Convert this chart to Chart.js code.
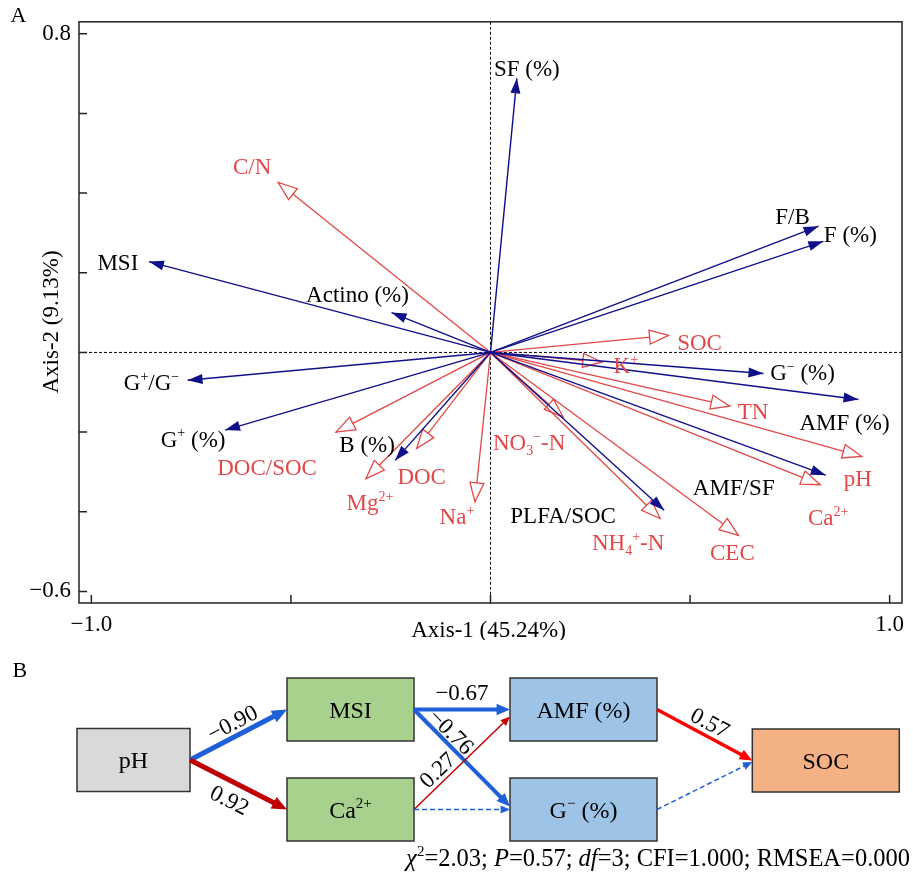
<!DOCTYPE html>
<html>
<head>
<meta charset="utf-8">
<script src="https://cdn.jsdelivr.net/npm/chart.js@4.4.1/dist/chart.umd.min.js"></script>
<style>
  html, body { margin: 0; padding: 0; background: #fff; }
  canvas { display: block; }
</style>
</head>
<body>
<canvas id="rda-chart" width="913" height="640"></canvas>
<canvas id="sem-chart" width="913" height="241"></canvas>
<script>
// --- panel A: RDA biplot ---
// microbial variables (blue arrows, filled heads)
var bioVars = ['SF (%)', 'F/B', 'F (%)', 'MSI', 'Actino (%)', 'G^{+}/G^{−}', 'G^{+} (%)', 'B (%)', 'G^{−} (%)', 'AMF (%)', 'AMF/SF', 'PLFA/SOC'];
var bioAxis1 = [0.066, 0.822, 0.834, -0.856, -0.248, -0.759, -0.665, -0.239, 0.684, 0.922, 0.840, 0.435];
var bioAxis2 = [0.688, 0.317, 0.279, 0.228, 0.100, -0.070, -0.195, -0.271, -0.053, -0.118, -0.308, -0.396];

// soil properties (red arrows, open heads)
var soilVars = ['C/N', 'SOC', 'K^{+}', 'TN', 'pH', 'Ca^{2+}', 'CEC', 'NH_{4}^{+}-N', 'NO_{3}^{−}-N', 'Na^{+}', 'DOC', 'Mg^{2+}', 'DOC/SOC'];
var soilAxis1 = [-0.532, 0.446, 0.279, 0.600, 0.930, 0.826, 0.621, 0.425, 0.182, -0.039, -0.185, -0.312, -0.387];
var soilAxis2 = [0.427, 0.043, -0.024, -0.135, -0.261, -0.332, -0.459, -0.417, -0.162, -0.375, -0.241, -0.317, -0.200];

var axis1Title = 'Axis-1 (45.24%)';
var axis2Title = 'Axis-2 (9.13%)';

// --- panel B: path model ---
var semNodes = ['pH', 'MSI', 'Ca^{2+}', 'AMF (%)', 'G^{−} (%)', 'SOC'];
var pathFrom = [0, 0, 1, 1, 2, 2, 3, 4];
var pathTo = [1, 2, 3, 4, 3, 4, 5, 5];
var pathCoef = [-0.90, 0.92, -0.67, -0.76, 0.27, null, 0.57, null];
var fitStats = '|χ|^{2}=2.03; |P|=0.57; |df|=3; CFI=1.000; RMSEA=0.000';

// label placement (px offsets from arrow tips)
var bioLabelOffset = [[10, -10], [-26, -10], [27, -7], [-31, 1], [-34, -18], [-36, 2], [-32, 9], [-28, -16], [39, -1], [-14, 23], [-92, 12], [-101, 5]];
var soilLabelOffset = [[-26, -16], [31, 7], [24, 4], [23, 5], [-4, 22], [8, 33], [-6, 17], [-32, 24], [-34, 26], [-18, 15], [5, 28], [4, 24], [-69, 35]];

// diagram layout (units of panel B)
var nodeLayout = [
    { x: 133.5, y: 120, w: 113, fill: '#d9d9d9' },
    { x: 350.5, y: 69.5, w: 127, fill: '#a9d18e' },
    { x: 350.5, y: 169.5, w: 127, fill: '#a9d18e' },
    { x: 583.5, y: 69.5, w: 147, fill: '#9dc3e6' },
    { x: 583.5, y: 169.5, w: 147, fill: '#9dc3e6' },
    { x: 825.8, y: 120.5, w: 147, fill: '#f4b183' }
];
var NODE_H = 63;
var pathStyle = [
    { w: 5, c: '#1f5fd8', n: 14, a: 0 },
    { w: 5, c: '#c00000', n: -17, a: -1 },
    { w: 4, c: '#1f5fd8', n: 18, a: 0 },
    { w: 4, c: '#1f5fd8', n: 11.5, a: -26, endDy: -3 },
    { w: 1.5, c: '#c00000', n: 12.7, a: -22.5, endDy: 7 },
    { w: 1.5, c: '#1f5fd8', dash: [5, 3] },
    { w: 3.5, c: '#ff0000', n: 14, a: -1 },
    { w: 1.5, c: '#1f5fd8', dash: [5, 3], endDy: 1.5 }
];

var FONT = '"Liberation Serif", "Times New Roman", serif';
var BLUE = '#10108a';
var RED = '#e24848';

Chart.defaults.font.family = FONT;
Chart.defaults.font.size = 23;
Chart.defaults.color = '#000';

// tiny rich text: ^{sup} _{sub} |italic|
function parseRich(s) {
    var segs = [], buf = '', italic = false, i = 0;
    function flush() { if (buf) { segs.push({ t: buf, m: 'n', it: italic }); buf = ''; } }
    while (i < s.length) {
        var c = s[i];
        if ((c === '^' || c === '_') && s[i + 1] === '{') {
            flush();
            var j = s.indexOf('}', i);
            segs.push({ t: s.slice(i + 2, j), m: c === '^' ? 'sup' : 'sub', it: italic });
            i = j + 1;
            continue;
        }
        if (c === '|') { flush(); italic = !italic; i++; continue; }
        buf += c; i++;
    }
    flush();
    return segs;
}

function drawRich(ctx, s, x, y, size, color, align) {
    var segs = parseRich(s);
    var total = 0;
    segs.forEach(function (g) {
        var fs = g.m === 'n' ? size : Math.round(size * 0.62);
        g.font = (g.it ? 'italic ' : '') + fs + 'px ' + FONT;
        ctx.font = g.font;
        g.w = ctx.measureText(g.t).width;
        total += g.w;
    });
    var cx = align === 'center' ? x - total / 2 : (align === 'right' ? x - total : x);
    ctx.save();
    ctx.fillStyle = color;
    ctx.textAlign = 'left';
    ctx.textBaseline = 'alphabetic';
    segs.forEach(function (g) {
        var dy = g.m === 'sup' ? -size * 0.4 : (g.m === 'sub' ? size * 0.2 : 0);
        ctx.font = g.font;
        ctx.fillText(g.t, cx, y + dy);
        cx += g.w;
    });
    ctx.restore();
}

var datasets = [];
soilVars.forEach(function (name, i) {
    datasets.push({
        label: name, group: 'soil', labelOffset: soilLabelOffset[i],
        data: [{ x: 0, y: 0 }, { x: soilAxis1[i], y: soilAxis2[i] }],
        borderColor: RED, borderWidth: 1.3, showLine: true, pointRadius: 0, order: 1
    });
});
bioVars.forEach(function (name, i) {
    datasets.push({
        label: name, group: 'bio', labelOffset: bioLabelOffset[i],
        data: [{ x: 0, y: 0 }, { x: bioAxis1[i], y: bioAxis2[i] }],
        borderColor: BLUE, borderWidth: 1.4, showLine: true, pointRadius: 0, order: 0
    });
});

var biplotPlugin = {
    id: 'biplot',
    beforeDatasetsDraw: function (chart) {
        var ctx = chart.ctx, a = chart.chartArea;
        var x0 = chart.scales.x.getPixelForValue(0), y0 = chart.scales.y.getPixelForValue(0);
        ctx.save();
        ctx.strokeStyle = '#000';
        ctx.lineWidth = 1;
        ctx.setLineDash([3, 2]);
        ctx.beginPath();
        ctx.moveTo(x0, a.top); ctx.lineTo(x0, a.bottom);
        ctx.moveTo(a.left, y0); ctx.lineTo(a.right, y0);
        ctx.stroke();
        ctx.restore();
    },
    afterDatasetDraw: function (chart, args) {
        var ds = chart.data.datasets[args.index];
        var pts = args.meta.data;
        var ang = Math.atan2(pts[1].y - pts[0].y, pts[1].x - pts[0].x);
        var bio = ds.group === 'bio';
        var L = bio ? 15 : 19, hw = bio ? 5 : 7;
        var ctx = chart.ctx;
        ctx.save();
        ctx.translate(pts[1].x, pts[1].y);
        ctx.rotate(ang);
        ctx.beginPath();
        ctx.moveTo(0, 0); ctx.lineTo(-L, -hw); ctx.lineTo(-L, hw); ctx.closePath();
        if (bio) {
            ctx.fillStyle = BLUE; ctx.fill();
        } else {
            ctx.fillStyle = '#fff'; ctx.fill();
            ctx.strokeStyle = RED; ctx.lineWidth = 1.3; ctx.stroke();
        }
        ctx.restore();
    },
    afterDraw: function (chart) {
        var ctx = chart.ctx, a = chart.chartArea;
        var xs = chart.scales.x, ys = chart.scales.y;
        ctx.save();
        // frame
        ctx.strokeStyle = '#222';
        ctx.lineWidth = 1.5;
        ctx.strokeRect(a.left, a.top, a.right - a.left, a.bottom - a.top);
        // inward ticks
        ctx.beginPath();
        xs.ticks.forEach(function (t) {
            var p = xs.getPixelForValue(t.value);
            ctx.moveTo(p, a.bottom); ctx.lineTo(p, a.bottom - 8);
        });
        ys.ticks.forEach(function (t) {
            var p = ys.getPixelForValue(t.value);
            ctx.moveTo(a.left, p); ctx.lineTo(a.left + 8, p);
        });
        ctx.stroke();
        ctx.restore();

        // arrow labels
        chart.data.datasets.forEach(function (ds, i) {
            var tip = chart.getDatasetMeta(i).data[1];
            var cx = tip.x + ds.labelOffset[0], cy = tip.y + ds.labelOffset[1];
            drawRich(ctx, ds.label, cx, cy + 7.5, 23, ds.group === 'bio' ? '#000' : RED, 'center');
        });

        // axis titles and panel letter
        drawRich(ctx, axis1Title, 488.5, 637, 23, '#000', 'center');
        ctx.save();
        ctx.translate(58, 322);
        ctx.rotate(-Math.PI / 2);
        drawRich(ctx, axis2Title, 0, 0, 23, '#000', 'center');
        ctx.restore();
        drawRich(ctx, 'A', 10.5, 21.5, 22, '#000', 'left');
    }
};

new Chart(document.getElementById('rda-chart').getContext('2d'), {
    type: 'scatter',
    data: { datasets: datasets },
    options: {
        responsive: false,
        animation: false,
        layout: { padding: { left: 0, right: 11, top: 21, bottom: 0 } },
        plugins: { legend: { display: false }, tooltip: { enabled: false } },
        scales: {
            x: {
                type: 'linear', min: -1.031, max: 1.031,
                grid: { display: false, drawTicks: false },
                border: { display: false },
                afterFit: function (s) { s.height = 37; },
                ticks: {
                    stepSize: 0.5, includeBounds: false, autoSkip: false, maxRotation: 0, padding: 8,
                    font: { size: 23 },
                    callback: function (v) {
                        if (Math.abs(v + 1) < 1e-9) return '−1.0';
                        if (Math.abs(v - 1) < 1e-9) return '1.0';
                        return '';
                    }
                }
            },
            y: {
                type: 'linear', min: -0.629, max: 0.83,
                grid: { display: false, drawTicks: false },
                border: { display: false },
                afterFit: function (s) { s.width = 79; },
                ticks: {
                    stepSize: 0.2, includeBounds: false, autoSkip: false, padding: 8,
                    font: { size: 23 },
                    callback: function (v) {
                        if (Math.abs(v - 0.8) < 1e-9) return '0.8';
                        if (Math.abs(v + 0.6) < 1e-9) return '−0.6';
                        return '';
                    }
                }
            }
        }
    },
    plugins: [biplotPlugin]
});

function fmtCoef(v) {
    return (v < 0 ? '−' : '') + Math.abs(v).toFixed(2);
}

var pathPlugin = {
    id: 'pathDiagram',
    afterDatasetsDraw: function (chart) {
        var ctx = chart.ctx;
        var xs = chart.scales.x, ys = chart.scales.y;
        function px(v) { return xs.getPixelForValue(v); }
        function py(v) { return ys.getPixelForValue(v); }

        // boxes
        nodeLayout.forEach(function (n, i) {
            var l = px(n.x - n.w / 2), r = px(n.x + n.w / 2);
            var t = py(n.y - NODE_H / 2), b = py(n.y + NODE_H / 2);
            ctx.save();
            ctx.fillStyle = n.fill;
            ctx.fillRect(l, t, r - l, b - t);
            ctx.strokeStyle = '#333';
            ctx.lineWidth = 1.5;
            ctx.strokeRect(l, t, r - l, b - t);
            ctx.restore();
            drawRich(ctx, semNodes[i], px(n.x), py(n.y) + 8, 24, '#000', 'center');
        });

        // paths
        pathFrom.forEach(function (f, k) {
            var s = nodeLayout[f], d = nodeLayout[pathTo[k]], st = pathStyle[k];
            var x1 = px(s.x + s.w / 2), y1 = py(s.y);
            var x2 = px(d.x - d.w / 2), y2 = py(d.y + (st.endDy || 0));
            var ang = Math.atan2(y2 - y1, x2 - x1);
            var len = Math.hypot(x2 - x1, y2 - y1);
            var L = 7 + st.w * 1.6, hw = 3 + st.w * 0.7;
            ctx.save();
            ctx.translate(x1, y1);
            ctx.rotate(ang);
            ctx.strokeStyle = st.c;
            ctx.fillStyle = st.c;
            ctx.lineWidth = st.w;
            ctx.setLineDash(st.dash || []);
            ctx.beginPath();
            ctx.moveTo(0, 0); ctx.lineTo(len - L * 0.8, 0);
            ctx.stroke();
            ctx.setLineDash([]);
            ctx.beginPath();
            ctx.moveTo(len, 0); ctx.lineTo(len - L, -hw); ctx.lineTo(len - L, hw); ctx.closePath();
            ctx.fill();
            if (pathCoef[k] !== null) {
                ctx.translate(len / 2 + st.a, -st.n);
                drawRich(ctx, fmtCoef(pathCoef[k]), 0, 8, 23, '#000', 'center');
            }
            ctx.restore();
        });

        drawRich(ctx, 'B', 12.5, 37, 22, '#000', 'left');
        drawRich(ctx, fitStats, 910, 226, 24.5, '#000', 'right');
    }
};

new Chart(document.getElementById('sem-chart').getContext('2d'), {
    type: 'scatter',
    data: {
        datasets: [{
            label: 'nodes',
            data: nodeLayout.map(function (n) { return { x: n.x, y: n.y }; }),
            pointRadius: 0
        }]
    },
    options: {
        responsive: false,
        animation: false,
        layout: { padding: 0 },
        plugins: { legend: { display: false }, tooltip: { enabled: false } },
        scales: {
            x: { type: 'linear', display: false, min: 0, max: 913 },
            y: { type: 'linear', display: false, min: 0, max: 241, reverse: true }
        }
    },
    plugins: [pathPlugin]
});
</script>
</body>
</html>
